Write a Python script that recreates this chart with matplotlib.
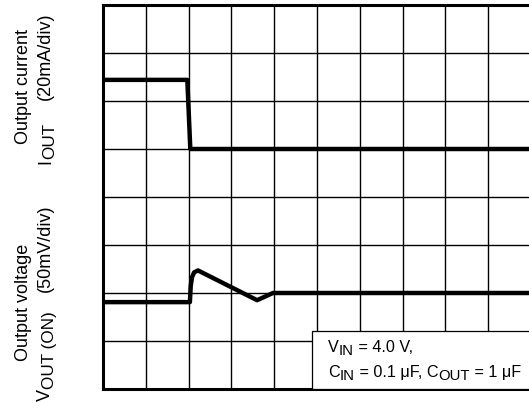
import numpy as np
import matplotlib
matplotlib.use('Agg')
import matplotlib.pyplot as plt
from matplotlib.patches import Rectangle
from matplotlib.transforms import offset_copy

plt.rcParams['font.family'] = ['Liberation Sans', 'DejaVu Sans']

# traces, in scope divisions (x: 10 div, y: 8 div)
iout_t = [0, 1.97, 2.04, 10]
iout_div = [6.44, 6.44, 5.0, 5.0]
vout_t = [0, 2.03, 2.05, 2.08, 2.13, 2.22, 3.60, 3.97, 10]
vout_div = [1.81, 1.81, 2.15, 2.33, 2.43, 2.47, 1.85, 2.0, 2.0]

W, H = 529, 403
fig = plt.figure(figsize=(W / 100, H / 100), dpi=100)
# axes runs slightly past the right edge, like the cropped scope shot
ax = fig.add_axes([103 / W, (H - 389) / H, 428 / W, 384 / H])
ax.set_xlim(0, 10)
ax.set_ylim(0, 8)
ax.set_xticks(np.arange(0, 11))
ax.set_yticks(np.arange(0, 9))
ax.tick_params(length=0, labelbottom=False, labelleft=False)
ax.grid(True, color='black', lw=1.0)
for s in ['left', 'top', 'bottom']:
    ax.spines[s].set_linewidth(2.2)
ax.spines['right'].set_visible(False)

ax.plot(iout_t, iout_div, color='black', lw=3.2, zorder=3)
ax.plot(vout_t, vout_div, color='black', lw=3.2, zorder=3)

# condition box
box_x = (312 - 103) / 42.8
box_top = 8 - (331 - 5) / 48
ax.add_patch(Rectangle((box_x, 0), 10 - box_x, box_top, facecolor='white',
                       edgecolor='black', lw=0.9, zorder=4))

renderer = fig.canvas.get_renderer()


def rich(px, py, parts, size, rotation=0):
    # parts: (text, drop in points, size scale)
    x, y = px / W, 1 - py / H
    adv = 0.0
    for s, drop, sc in parts:
        d = drop * fig.dpi / 72
        if rotation == 0:
            tr = offset_copy(fig.transFigure, fig=fig, x=adv, y=-d, units='dots')
        else:
            tr = offset_copy(fig.transFigure, fig=fig, x=d, y=adv, units='dots')
        t = fig.text(x, y, s, transform=tr, fontsize=size * sc, rotation=rotation,
                     rotation_mode='anchor', ha='left', va='baseline', zorder=5)
        bb = t.get_window_extent(renderer)
        adv += bb.width if rotation == 0 else bb.height


lab = 13
fig.text(28 / W, 1 - 87 / H, 'Output current', fontsize=lab, rotation=90,
         rotation_mode='anchor', ha='center', va='baseline')
fig.text(28 / W, 1 - 302 / H, 'Output voltage', fontsize=lab, rotation=90,
         rotation_mode='anchor', ha='center', va='baseline')
fig.text(50 / W, 1 - 56 / H, '(20mA/div)', fontsize=lab, rotation=90,
         rotation_mode='anchor', ha='center', va='baseline')
fig.text(50 / W, 1 - 248 / H, '(50mV/div)', fontsize=lab, rotation=90,
         rotation_mode='anchor', ha='center', va='baseline')
rich(50, 164, [('I', 0, 1), ('OUT', 3.2, 0.95)], lab, rotation=90)
rich(50, 401, [('V', 0, 1), ('OUT (ON)', 3.2, 0.95)], lab, rotation=90)

ann = 11.6
rich(328, 352, [('V', 0, 1), ('IN', 2.2, 0.92), (' = 4.0 V,', 0, 1)], ann)
rich(328, 377, [('C', 0, 1), ('IN', 2.2, 0.92), (' = 0.1 \u03bcF, C', 0, 1),
                ('OUT', 2.2, 0.92), (' = 1 \u03bcF', 0, 1)], ann)

fig.savefig('out.png', dpi=100)
